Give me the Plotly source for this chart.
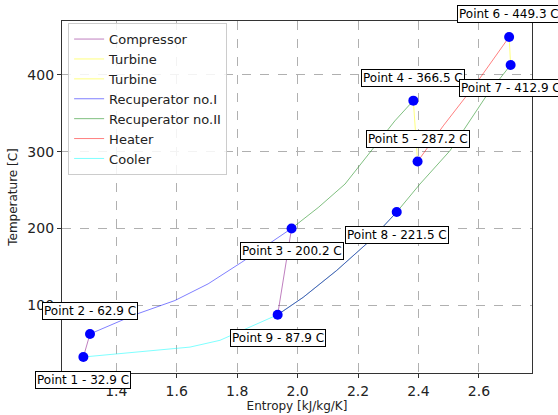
import plotly.graph_objects as go

# State points (entropy kJ/kg/K, temperature C)
point_s = [1.291, 1.313, 1.980, 2.383, 2.397, 2.700, 2.705, 2.328, 1.934]
point_T = [32.9, 62.9, 200.2, 366.5, 287.2, 449.3, 412.9, 221.5, 87.9]
label_side = [-1, 1, -1, 1, 1, 1, -1, -1, -1]  # 1 above, -1 below

# Process curves
comp_s = [1.291, 1.313, None, 1.934, 1.980]
comp_T = [32.9, 62.9, None, 87.9, 200.2]
turb1_s = [2.383, 2.397]
turb1_T = [366.5, 287.2]
turb2_s = [2.700, 2.705]
turb2_T = [449.3, 412.9]
rec1_cold_s = [1.313, 1.462, 1.594, 1.704, 1.815, 1.914, 1.980]
rec1_cold_T = [62.9, 88.0, 106.4, 128.1, 156.2, 182.2, 200.2]
rec1_hot_s = [2.328, 2.240, 2.129, 2.019, 1.934]
rec1_hot_T = [221.5, 184.4, 145.4, 110.7, 87.9]
rec2_cold_s = [1.980, 2.069, 2.157, 2.245, 2.322, 2.383]
rec2_cold_T = [200.2, 227.6, 258.0, 301.3, 340.2, 366.5]
rec2_hot_s = [2.705, 2.626, 2.504, 2.405, 2.328, 2.240, 2.129, 2.019, 1.934]
rec2_hot_T = [412.9, 373.5, 301.2, 258.0, 221.5, 184.4, 145.4, 110.7, 87.9]
heater_s = [2.397, 2.482, 2.593, 2.700]
heater_T = [287.2, 333.7, 390.0, 449.3]
cooler_s = [1.934, 1.832, 1.743, 1.644, 1.501, 1.401, 1.291]
cooler_T = [87.9, 69.7, 54.6, 45.8, 40.2, 37.2, 32.9]

FONT = "DejaVu Sans"
fig = go.Figure()

def line(xs, ys, name, color, show=True):
    fig.add_trace(go.Scatter(x=xs, y=ys, mode="lines", name=name, showlegend=show,
                             line=dict(color=color, width=1), connectgaps=False))

line(comp_s, comp_T, "Compressor", "rgba(128,0,128,0.5)")
line(turb1_s, turb1_T, "Turbine", "rgba(255,255,0,0.5)")
line(turb2_s, turb2_T, "Turbine", "rgba(255,255,0,0.5)")
line(rec1_cold_s, rec1_cold_T, "Recuperator no.I", "rgba(0,0,255,0.5)")
line(rec2_cold_s, rec2_cold_T, "Recuperator no.II", "rgba(0,128,0,0.5)")
line(heater_s, heater_T, "Heater", "rgba(255,0,0,0.5)")
line(cooler_s, cooler_T, "Cooler", "rgba(0,255,255,0.5)")
line(rec2_hot_s, rec2_hot_T, "Recuperator no.II", "rgba(0,128,0,0.5)", show=False)
line(rec1_hot_s, rec1_hot_T, "Recuperator no.I", "rgba(0,0,255,0.5)", show=False)

fig.add_trace(go.Scatter(x=point_s, y=point_T, mode="markers", showlegend=False,
                         marker=dict(color="blue", size=10)))

for i, (s, t, side) in enumerate(zip(point_s, point_T, label_side), start=1):
    fig.add_annotation(x=s, y=t, text=f"Point {i} - {t:.1f} C", showarrow=False,
                       yshift=23 * side, bgcolor="white", bordercolor="black",
                       borderwidth=1, borderpad=1,
                       font=dict(family=FONT, size=12, color="black"))

xlo, xhi = min(point_s), max(point_s)
ylo, yhi = min(point_T), max(point_T)
xp, yp = 0.05 * (xhi - xlo), 0.05 * (yhi - ylo)

axis_common = dict(showline=True, mirror=True, linecolor="#333", linewidth=1.3,
                   ticks="outside", ticklen=4, tickcolor="#333", automargin=False,
                   showgrid=True, gridcolor="#b0b0b0", griddash="dash", gridwidth=1,
                   zeroline=False, tickfont=dict(family=FONT, size=14, color="#222"))

fig.update_xaxes(range=[xlo - xp, xhi + xp], dtick=0.2, tick0=0, tickformat=".1f",
                 ticklabelstandoff=1,
                 title=dict(text="Entropy [kJ/kg/K]", standoff=3,
                            font=dict(family=FONT, size=12, color="#222")),
                 **axis_common)
fig.update_yaxes(range=[ylo - yp, yhi + yp], dtick=100, tick0=0,
                 title=dict(text="Temperature [C]", standoff=7,
                            font=dict(family=FONT, size=12, color="#222")),
                 **axis_common)

fig.update_layout(width=558, height=415, margin=dict(l=62, r=26, t=21, b=42),
                  paper_bgcolor="white", plot_bgcolor="white",
                  font=dict(family=FONT),
                  legend=dict(x=0.013, y=0.994, xanchor="left", yanchor="top",
                              bgcolor="rgba(255,255,255,0.85)", bordercolor="#cccccc",
                              borderwidth=1, traceorder="normal",
                              font=dict(family=FONT, size=13, color="#222")))

fig.write_html("out.html", config={"displayModeBar": False},
               post_script="document.body.style.margin='0';")
